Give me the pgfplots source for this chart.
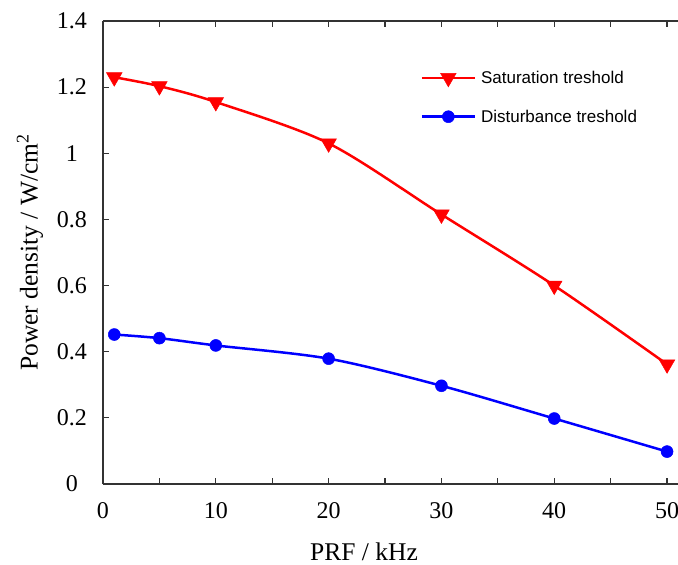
\documentclass[border=0pt]{standalone}
\usepackage{fontspec}
\setmainfont{Liberation Serif}
\newfontfamily\legfont{Liberation Sans}
\usepackage{pgfplots}
\pgfplotsset{compat=1.18}
\begin{document}
\begin{tikzpicture}
\begin{axis}[
  at={(0,0)}, anchor=south west,
  scale only axis, width=575pt, height=463pt,
  xmin=0, xmax=50.97, ymin=0, ymax=1.4,
  axis x line*=box, axis y line*=left,
  axis line style={line width=1.2pt, black!80},
  tick style={line width=1.2pt, black!80},
  tick align=inside, major tick length=6pt,
  xtick={0,5,...,50}, xticklabels={0,,10,,20,,30,,40,,50},
  ytick={0,0.2,...,1.4},
  yticklabels={0,0.2,0.4,0.6,0.8,1,1.2,1.4},
  ytick pos=left,
  /pgf/number format/assume math mode=true,
  ticklabel style={font=\fontsize{24}{27}\selectfont},
  xticklabel style={anchor=center, yshift=-27pt},
  yticklabel style={anchor=center, xshift=-31pt},
  xlabel={PRF / kHz},
  ylabel={Power density / W/cm\textsuperscript{2}},
  label style={font=\fontsize{25.5}{28}\selectfont},
  xlabel style={at={(axis description cs:0.454,-0.147)}, anchor=center},
  ylabel style={at={(axis description cs:-0.127,0.5)}, anchor=center},
  legend style={draw=none, fill=none, at={(axis description cs:0.552,0.897)}, anchor=north west,
    font=\fontsize{17}{20}\legfont, row sep=21pt, inner sep=0pt,
    nodes={inner xsep=5pt}},
  legend cell align=left,
  legend image code/.code={%
    \draw[#1, mark=none, line width=2.5pt] (0pt,0pt) -- (53pt,0pt);
    \draw[#1, only marks] plot coordinates {(26.5pt,0pt)};},
]
\addplot[red, line width=2.5pt, smooth, mark=triangle*, mark size=9pt, mark options={rotate=180, line width=0.5pt}]
  coordinates {(1,1.230) (5,1.203) (10,1.155) (20,1.030) (30,0.815) (40,0.600) (50,0.362)};
\addlegendentry{Saturation treshold}
\addplot[blue, line width=2.5pt, smooth, mark=*, mark size=6pt, mark options={line width=0.5pt}]
  coordinates {(1,0.452) (5,0.441) (10,0.419) (20,0.379) (30,0.297) (40,0.198) (50,0.098)};
\addlegendentry{Disturbance treshold}
\end{axis}
\pgfresetboundingbox
\useasboundingbox (-103pt,-81pt) rectangle (575pt,484pt);
\end{tikzpicture}
\end{document}
